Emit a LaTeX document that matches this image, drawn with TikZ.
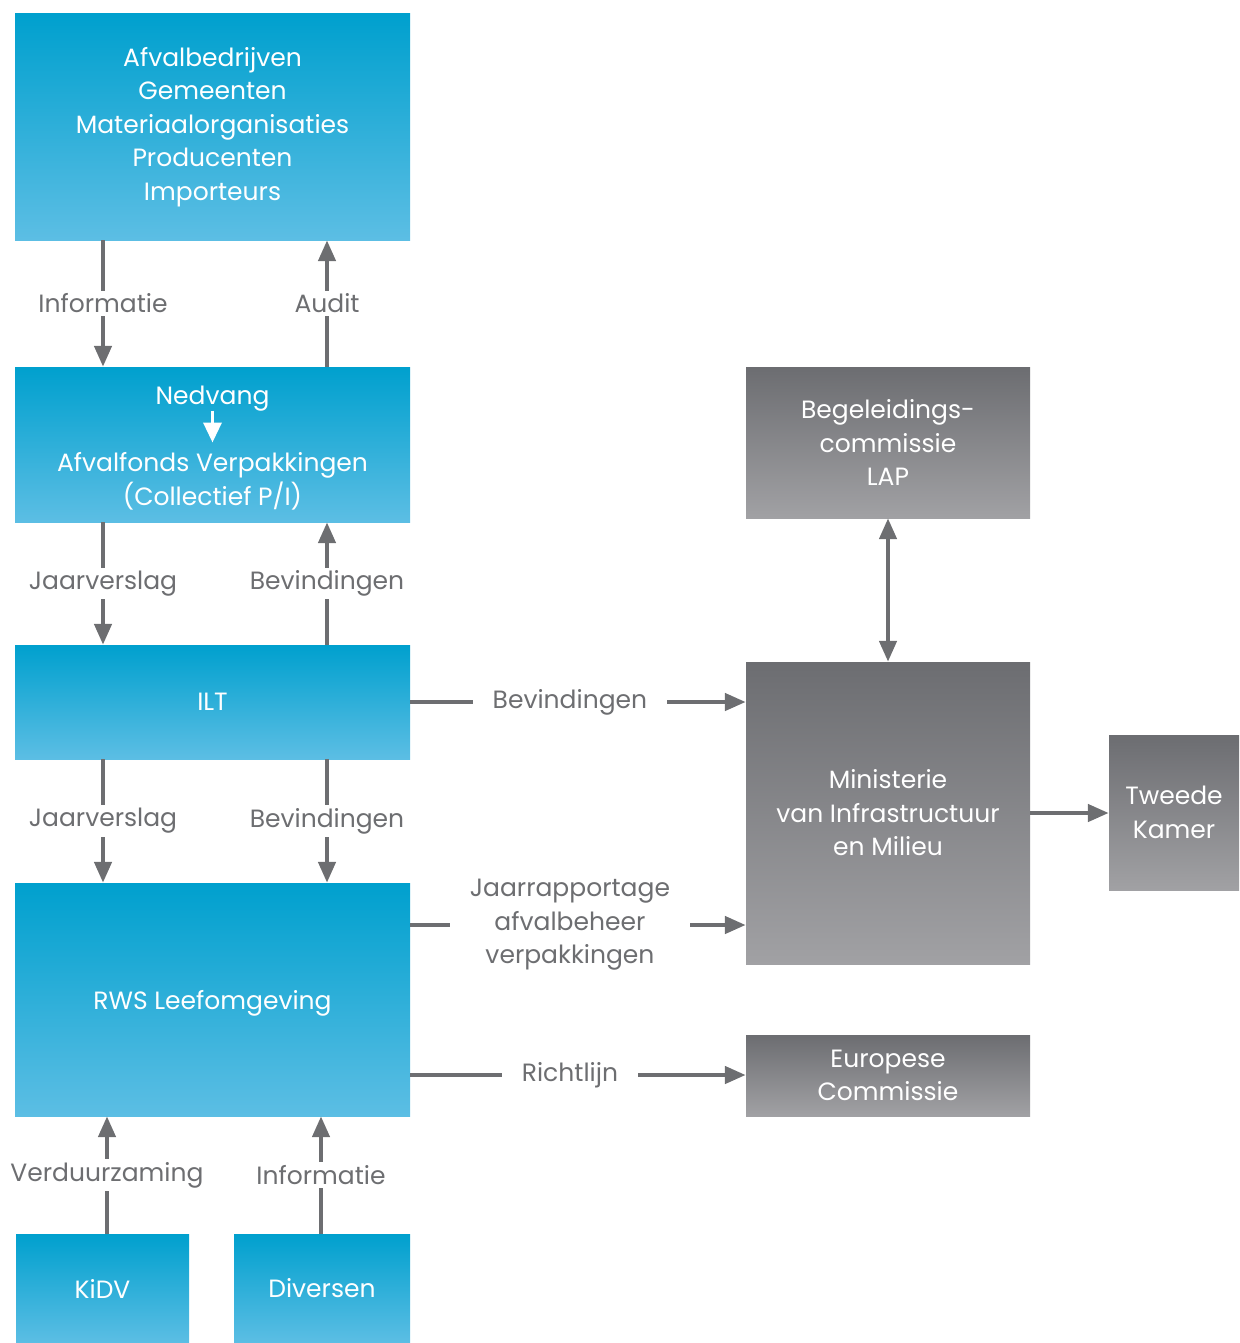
\documentclass[tikz,border=0pt]{standalone}
\usepackage{fontspec}
\setmainfont{Poppins}
\usetikzlibrary{arrows.meta,positioning,calc}
\definecolor{lineGray}{RGB}{109,110,113}
\definecolor{blueT}{RGB}{0,160,206}
\definecolor{blueM}{RGB}{0,170,216}
\definecolor{blueB}{RGB}{92,190,228}
\definecolor{grayT}{RGB}{108,109,113}
\definecolor{grayB}{RGB}{161,161,164}
\tikzset{
  txt/.style={font=\fontsize{25}{33.5}\selectfont},
  bluebox/.style={txt, text=white, align=center, inner sep=0pt, draw=none,
    top color=blueT, middle color=blueM, bottom color=blueB},
  graybox/.style={txt, text=white, align=center, inner sep=0pt, draw=none,
    top color=grayT, bottom color=grayB},
  arr/.style={draw=lineGray, line width=4.5pt, -{Triangle[width=17pt,length=21pt]}},
  darr/.style={draw=lineGray, line width=4.5pt, {Triangle[width=17pt,length=21pt]}-{Triangle[width=17pt,length=21pt]}},
  warr/.style={draw=white, line width=3.5pt, -{Triangle[width=18pt,length=20pt]}},
  lab/.style={txt, text=lineGray, fill=white, align=center, inner xsep=20pt, inner ysep=3pt},
  wtxt/.style={txt, text=white, align=center, inner sep=0pt}
}
\begin{document}
\begin{tikzpicture}[x=1pt,y=-1pt]
\useasboundingbox (0,0) rectangle (1239,1343);
% blue boxes
\node[bluebox, minimum width=395pt, minimum height=226pt] (top) at (212.5,127)
  {Afvalbedrijven\\Gemeenten\\Materiaalorganisaties\\Producenten\\Importeurs};
\node[bluebox, minimum width=395pt, minimum height=155pt] (ned) at (212.5,444.5) {};
\node[wtxt] (nedA) at (212.5,398.5) {Nedvang};
\node[wtxt] (nedB) at (212.5,481.5) {Afvalfonds Verpakkingen\\(Collectief P/I)};
\node[bluebox, minimum width=395pt, minimum height=114pt] (ilt) at (212.5,702) {ILT};
\node[bluebox, minimum width=395pt, minimum height=233pt, text depth=0pt] (rws) at (212.5,999.5) {RWS Leefomgeving};
\node[bluebox, minimum width=173pt, minimum height=109pt] (kidv) at (102.5,1288.5) {KiDV};
\node[bluebox, minimum width=176pt, minimum height=109pt] (div) at (322,1288.5) {Diversen};
% gray boxes
\node[graybox, minimum width=284pt, minimum height=151pt] (beg) at (888,442.5)
  {Begeleidings-\\commissie\\LAP};
\node[graybox, minimum width=284pt, minimum height=302pt] (min) at (888,813)
  {Ministerie\\van Infrastructuur\\en Milieu};
\node[graybox, minimum width=130pt, minimum height=155pt] (tk) at (1174,812.5)
  {Tweede\\Kamer};
\node[graybox, minimum width=284pt, minimum height=81pt] (eu) at (888,1075.5)
  {Europese\\Commissie};
% inner arrow
\draw[warr] ([yshift=-12pt]nedA.center) -- ([yshift=-44pt]nedA.center);
% vertical connectors
\draw[arr] ([xshift=-109.5pt]top.south) -- node[lab]{Informatie} ([xshift=-109.5pt]ned.north);
\draw[arr] ([xshift=114.5pt]ned.north) -- node[lab]{Audit} ([xshift=114.5pt]top.south);
\draw[arr] ([xshift=-109.5pt]ned.south) -- node[lab]{Jaarverslag} ([xshift=-109.5pt]ilt.north);
\draw[arr] ([xshift=114.5pt]ilt.north) -- node[lab]{Bevindingen} ([xshift=114.5pt]ned.south);
\draw[arr] ([xshift=-109.5pt]ilt.south) -- node[lab]{Jaarverslag} ([xshift=-109.5pt]rws.north);
\draw[arr] ([xshift=114.5pt]ilt.south) -- node[lab]{Bevindingen} ([xshift=114.5pt]rws.north);
\draw[arr] ([xshift=4.5pt]kidv.north) -- node[lab]{Verduurzaming} ([xshift=4.5pt]kidv.north |- rws.south);
\draw[arr] ([xshift=-1pt]div.north) -- node[lab]{Informatie} ([xshift=-1pt]div.north |- rws.south);
% horizontal connectors
\draw[arr] (ilt.east) -- node[lab, pos=0.476]{Bevindingen} (ilt.east -| min.west);
\draw[arr] ([yshift=74.5pt]rws.east) -- node[lab, pos=0.476]{Jaarrapportage\\afvalbeheer\\verpakkingen} ([yshift=74.5pt]rws.east -| min.west);
\draw[arr] ([yshift=-75.5pt]rws.east) -- node[lab, pos=0.476]{Richtlijn} ([yshift=-75.5pt]rws.east -| eu.west);
\draw[darr] (beg.south) -- (min.north);
\draw[arr] (min.east) -- (min.east -| tk.west);
\end{tikzpicture}
\end{document}
